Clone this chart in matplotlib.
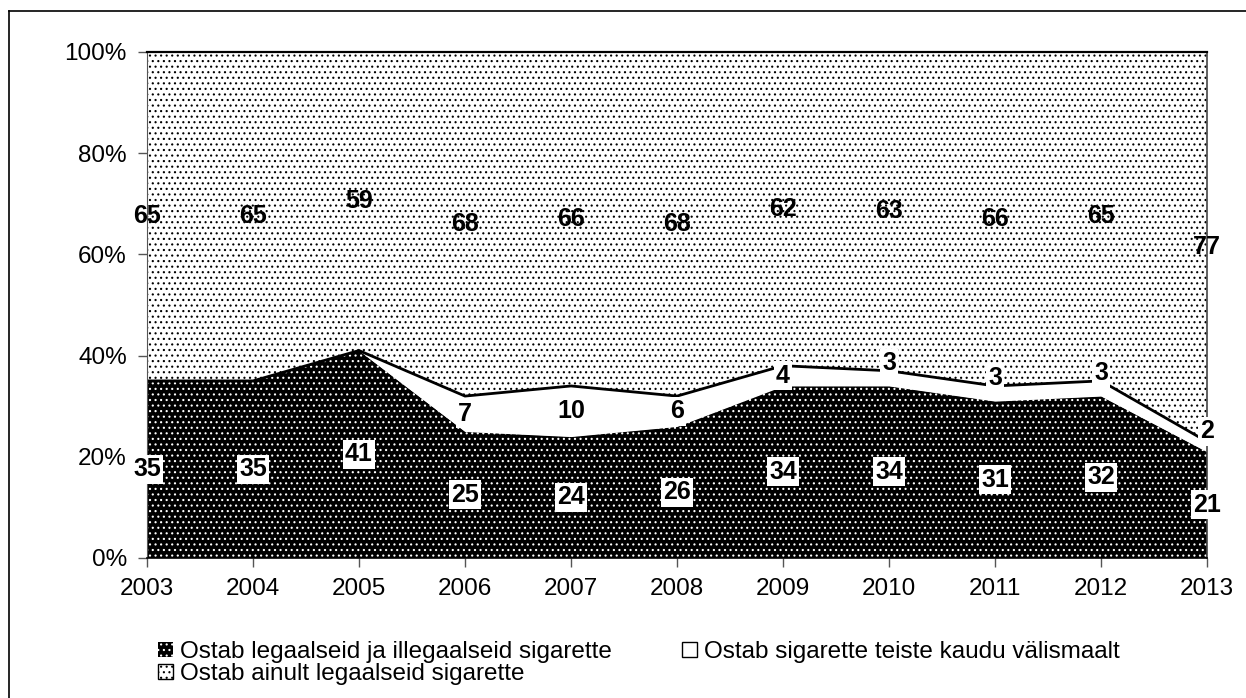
import matplotlib
matplotlib.use("Agg")
import matplotlib.pyplot as plt
import numpy as np
from matplotlib.patches import Patch
from matplotlib.lines import Line2D

plt.rcParams["font.family"] = ["Liberation Sans", "DejaVu Sans"]
plt.rcParams["hatch.linewidth"] = 0.8

years = [2003, 2004, 2005, 2006, 2007, 2008, 2009, 2010, 2011, 2012, 2013]
legal_illegal = [35, 35, 41, 25, 24, 26, 34, 34, 31, 32, 21]
abroad = [0, 0, 0, 7, 10, 6, 4, 3, 3, 3, 2]
legal_only = [65, 65, 59, 68, 66, 68, 62, 63, 66, 65, 77]
names = ["Ostab legaalseid ja illegaalseid sigarette",
         "Ostab sigarette teiste kaudu välismaalt",
         "Ostab ainult legaalseid sigarette"]

W, H = 1246, 698
fig = plt.figure(figsize=(W / 100, H / 100), dpi=100)
fig.patch.set_facecolor("white")
ax = fig.add_axes([147 / W, 1 - 558 / H, (1207 - 147) / W, (558 - 52) / H])

x = np.arange(len(years))
a = np.array(legal_illegal, float)
b = np.array(abroad, float)
c = np.array(legal_only, float)
top1 = a
top2 = a + b
top3 = top2 + c

# stacked areas
ax.fill_between(x, 0, top1, facecolor="black", edgecolor="white", hatch="...", lw=0)
ax.fill_between(x, top1, top2, facecolor="white", edgecolor="white", lw=0)
ax.fill_between(x, top2, top3, facecolor="white", edgecolor="black", hatch="...", lw=0)
ax.plot(x, top2, color="black", lw=2, solid_joinstyle="miter")

# data labels
lab = dict(fontsize=18, fontweight="bold", ha="center", va="center", clip_on=False, zorder=5)
box = dict(boxstyle="square,pad=0.1", fc="white", ec="none")
for i in x:
    ax.text(i, a[i] / 2, f"{legal_illegal[i]}", bbox=box, **lab)
    if abroad[i] > 0:
        yb = top1[i] + b[i] / 2
        if abroad[i] <= 3:
            yb += 3
        ax.text(i, yb, f"{abroad[i]}", bbox=box, **lab)
    ax.text(i, top2[i] + c[i] / 2, f"{legal_only[i]}", **lab)

ax.set_xlim(0, len(years) - 1)
ax.set_ylim(0, 100)
ax.set_xticks(x)
ax.set_xticklabels([str(y) for y in years])
ax.set_yticks(range(0, 101, 20))
ax.set_yticklabels([f"{v}%" for v in range(0, 101, 20)])
ax.tick_params(axis="both", labelsize=17.5, direction="out", length=6.5, width=1,
               color="#555555", pad=8)
for s in ["top", "right", "bottom"]:
    ax.spines[s].set_color("black")
    ax.spines[s].set_linewidth(1.2)
ax.spines["left"].set_color("#555555")
ax.spines["right"].set_color("#444444")
ax.spines["top"].set_linewidth(1.6)

# legend (row-wise order: A B / C)
h1 = Patch(facecolor="black", edgecolor="white", hatch="...", lw=0)
h2 = Patch(facecolor="white", edgecolor="black", lw=1)
h3 = Patch(facecolor="white", edgecolor="black", hatch="...", lw=1)
leg = fig.legend([h1, h3, h2], [names[0], names[2], names[1]], ncol=2,
                 loc="upper left", bbox_to_anchor=(158 / W, 1 - 641 / H),
                 frameon=False, fontsize=17.5, handlelength=0.6, handleheight=0.6,
                 handletextpad=0.3, columnspacing=2.9, labelspacing=0.0,
                 borderpad=0, borderaxespad=0)

# outer frame (top and left edges)
fig.add_artist(Line2D([9 / W, 1], [1 - 11 / H, 1 - 11 / H], color="black", lw=1.2,
                      transform=fig.transFigure))
fig.add_artist(Line2D([9 / W, 9 / W], [0, 1 - 11 / H], color="black", lw=1.2,
                      transform=fig.transFigure))

fig.savefig("out.png", dpi=100, facecolor="white")
